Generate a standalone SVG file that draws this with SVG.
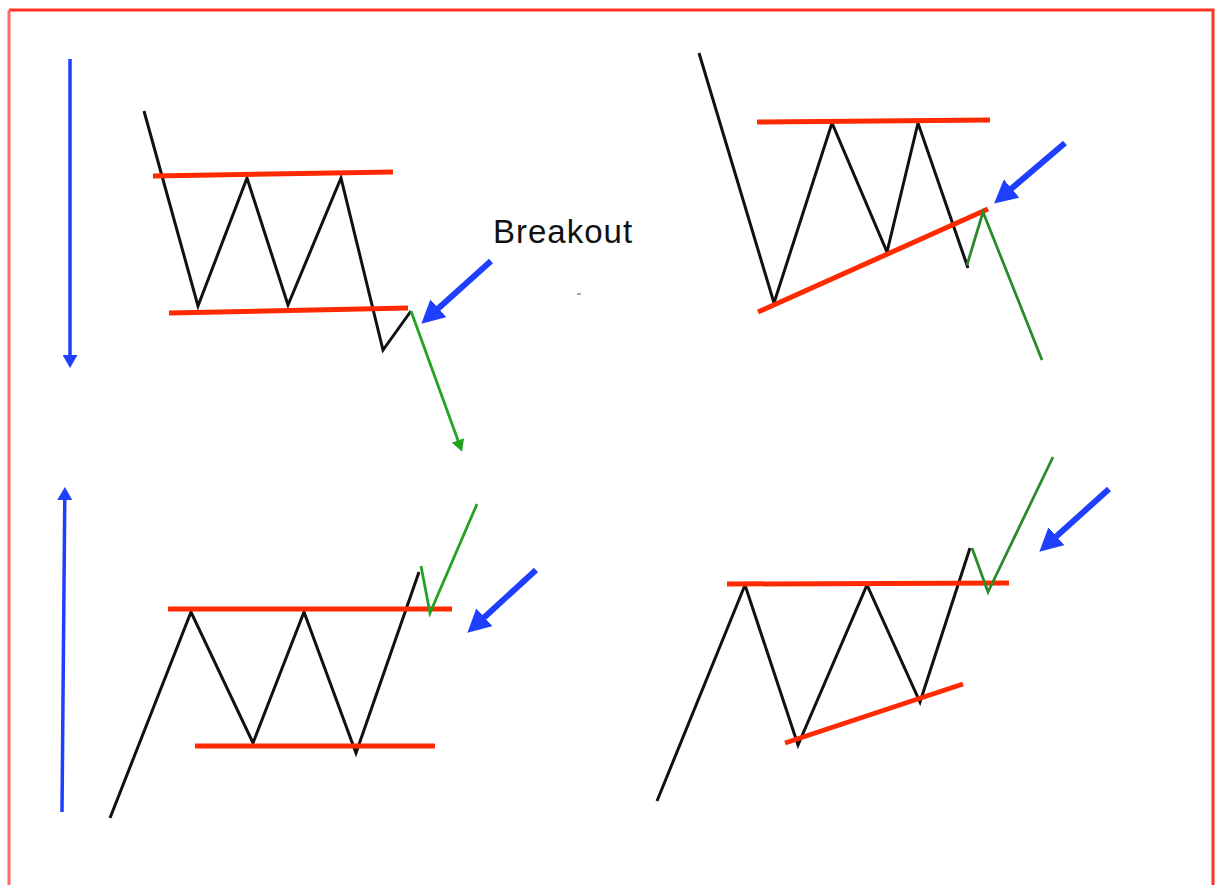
<svg xmlns="http://www.w3.org/2000/svg" width="1215" height="885" viewBox="0 0 1215 885">
<style>
.price{fill:none;stroke:#111;stroke-width:3;stroke-linejoin:miter}
.lvl{stroke:#ff2a00;stroke-width:5;stroke-linecap:butt}
.gl{fill:none;stroke:#22a322;stroke-width:2.8}
.gr{fill:none;stroke:#2b8a2b;stroke-width:2.8}
.blue{stroke:#1f3fff;stroke-width:6}
.trend{stroke:#1f3fff;stroke-width:3.5}
.lbl{font-family:"Liberation Sans",Arial,sans-serif;font-size:33px;letter-spacing:1px;fill:#111}
</style>
<defs>
<marker id="bh" markerUnits="userSpaceOnUse" markerWidth="24" markerHeight="24" refX="10" refY="12" orient="auto"><path d="M0,0 L23,12 L0,24 z" fill="#1f3fff"/></marker>
<marker id="th" markerUnits="userSpaceOnUse" markerWidth="14" markerHeight="15" refX="5" refY="7.5" orient="auto"><path d="M0,0 L13,7.5 L0,15 z" fill="#1f3fff"/></marker>
<marker id="gh" markerUnits="userSpaceOnUse" markerWidth="13" markerHeight="13" refX="6" refY="6.5" orient="auto"><path d="M0,0 L12,6.5 L0,13 z" fill="#22a322"/></marker>
</defs>
<rect width="1215" height="885" fill="#fff"/>
<g id="frame">
<path d="M1213,885 V10 H9" fill="none" stroke="#ff3322" stroke-width="3"/>
<path d="M9,10 V885" fill="none" stroke="#ff6a6a" stroke-width="3"/>
</g>
<g id="pattern-top-left">
<polyline class="price" points="144,111 198,306 247,178 288,305 341,178 383,350 411,311"/>
<line class="lvl" x1="153" y1="176" x2="393" y2="172"/>
<line class="lvl" x1="169" y1="313" x2="408" y2="308"/>
<text class="lbl" x="493" y="243">Breakout</text>
<line x1="577" y1="294" x2="581" y2="294" stroke="#888" stroke-width="1.5"/>
</g>
<g id="pattern-top-right">
<polyline class="price" points="699,53 774,303 832,123 887,252 918,123 968,268"/>
<line class="lvl" x1="757" y1="122" x2="990" y2="120"/>
<line class="lvl" x1="758" y1="312" x2="988" y2="209"/>
<polyline class="gr" points="967,265 983,212 1042,360"/>
</g>
<g id="pattern-bottom-left">
<polyline class="price" points="110,818 191,612 253,743 304,612 356,753 419,572"/>
<line class="lvl" x1="168" y1="609" x2="452" y2="609"/>
<line class="lvl" x1="195" y1="746" x2="435" y2="746"/>
<polyline class="gl" points="421,566 430,613 477,504"/>
</g>
<g id="pattern-bottom-right">
<polyline class="price" points="657,801 745,585 798,745 867,585 920,702 970,548"/>
<line class="lvl" x1="727" y1="584" x2="1009" y2="583"/>
<line class="lvl" x1="785" y1="743" x2="963" y2="684"/>
<polyline class="gr" points="972,548 988,592 1053,457"/>
</g>
<g id="connectors">
<line class="trend" x1="70" y1="59" x2="70" y2="360" marker-end="url(#th)"/>
<line class="trend" x1="62" y1="812" x2="64.8" y2="495" marker-end="url(#th)"/>
<line class="gl" x1="411" y1="311" x2="460" y2="446" marker-end="url(#gh)"/>
<line class="blue" x1="491" y1="261" x2="431" y2="315" marker-end="url(#bh)"/>
<line class="blue" x1="1065" y1="143" x2="1004" y2="195" marker-end="url(#bh)"/>
<line class="blue" x1="536" y1="570" x2="477" y2="624" marker-end="url(#bh)"/>
<line class="blue" x1="1109" y1="489" x2="1049" y2="543" marker-end="url(#bh)"/>
</g>
</svg>
